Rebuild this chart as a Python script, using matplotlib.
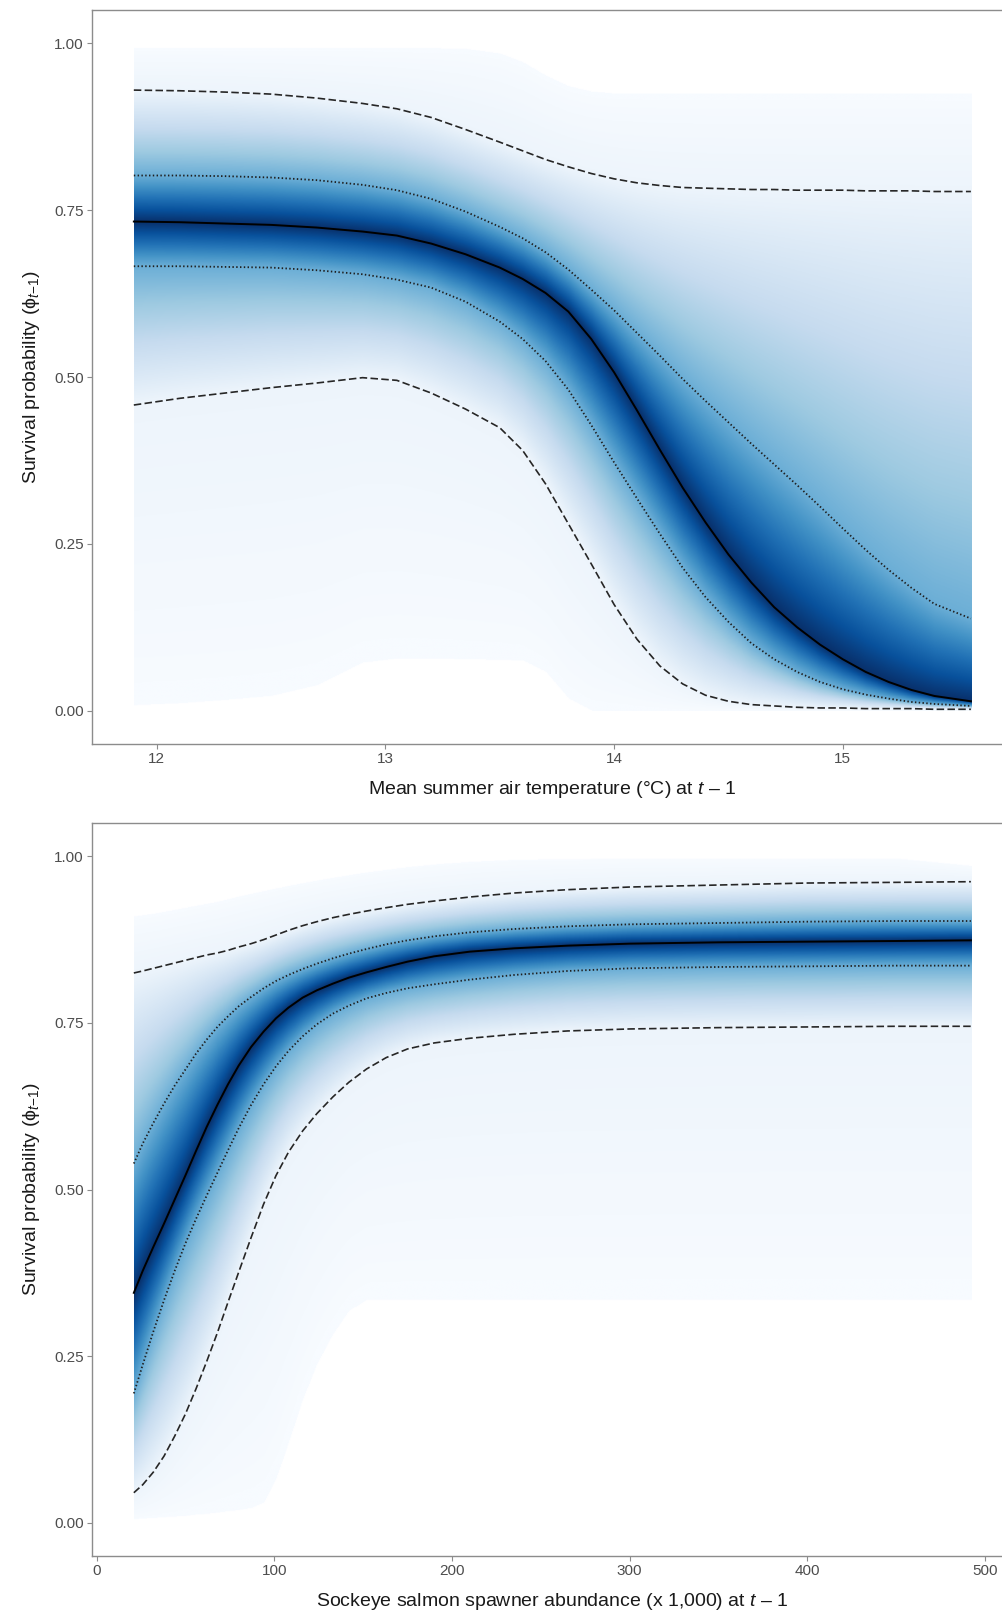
import numpy as np
import matplotlib.pyplot as plt
from matplotlib import colormaps

plt.rcParams['font.family'] = ['Liberation Sans', 'DejaVu Sans']
plt.rcParams['mathtext.fontset'] = 'custom'
plt.rcParams['mathtext.rm'] = 'Liberation Sans'
plt.rcParams['mathtext.it'] = 'Liberation Sans:italic'

# ---- top panel: survival vs mean summer air temperature ----
temp = [11.90, 12.10, 12.30, 12.50, 12.70, 12.90, 13.05, 13.20, 13.35, 13.50,
        13.60, 13.70, 13.80, 13.90, 14.00, 14.10, 14.20, 14.30, 14.40, 14.50,
        14.60, 14.70, 14.80, 14.90, 15.00, 15.10, 15.20, 15.30, 15.40, 15.56]
temp_med = [0.733, 0.732, 0.730, 0.728, 0.724, 0.718, 0.712, 0.700, 0.684, 0.664,
            0.647, 0.626, 0.598, 0.557, 0.507, 0.450, 0.391, 0.334, 0.282, 0.234,
            0.192, 0.155, 0.125, 0.099, 0.077, 0.058, 0.043, 0.031, 0.022, 0.014]
temp_hi50 = [0.802, 0.802, 0.801, 0.799, 0.795, 0.788, 0.780, 0.767, 0.748, 0.725,
             0.708, 0.687, 0.661, 0.631, 0.600, 0.566, 0.532, 0.497, 0.464, 0.432,
             0.400, 0.369, 0.338, 0.306, 0.273, 0.241, 0.211, 0.184, 0.160, 0.138]
temp_lo50 = [0.666, 0.666, 0.665, 0.664, 0.660, 0.654, 0.646, 0.634, 0.613, 0.583,
             0.557, 0.524, 0.481, 0.428, 0.372, 0.318, 0.265, 0.214, 0.170, 0.133,
             0.101, 0.077, 0.058, 0.043, 0.032, 0.024, 0.018, 0.013, 0.010, 0.007]
temp_hi95 = [0.930, 0.929, 0.927, 0.924, 0.918, 0.910, 0.902, 0.889, 0.871, 0.852,
             0.839, 0.826, 0.815, 0.805, 0.797, 0.791, 0.787, 0.784, 0.783, 0.782,
             0.781, 0.781, 0.780, 0.780, 0.780, 0.779, 0.779, 0.779, 0.778, 0.778]
temp_lo95 = [0.458, 0.468, 0.476, 0.484, 0.491, 0.499, 0.495, 0.476, 0.452, 0.424,
             0.390, 0.340, 0.280, 0.220, 0.159, 0.107, 0.067, 0.040, 0.023, 0.014,
             0.009, 0.007, 0.005, 0.004, 0.004, 0.003, 0.003, 0.003, 0.002, 0.002]
temp_top = [0.993, 0.993, 0.993, 0.993, 0.993, 0.993, 0.993, 0.993, 0.992, 0.985,
            0.972, 0.952, 0.936, 0.928, 0.925, 0.925, 0.925, 0.925, 0.925, 0.925,
            0.925, 0.925, 0.925, 0.925, 0.925, 0.925, 0.925, 0.925, 0.925, 0.925]
temp_bot = [0.008, 0.011, 0.016, 0.022, 0.038, 0.072, 0.078, 0.078, 0.077, 0.076,
            0.075, 0.058, 0.018, 0.0, 0.0, 0.0, 0.0, 0.0, 0.0, 0.0,
            0.0, 0.0, 0.0, 0.0, 0.0, 0.0, 0.0, 0.0, 0.0, 0.0]

# ---- bottom panel: survival vs sockeye spawner abundance ----
spawn = [21, 26, 32, 38, 44, 50, 56, 62, 68, 74, 80, 87, 94, 101, 108, 116,
         124, 133, 142, 152, 163, 175, 190, 210, 235, 265, 300, 350, 400, 450, 492]
spawn_med = [0.345, 0.378, 0.414, 0.449, 0.485, 0.521, 0.558, 0.594, 0.627, 0.658,
             0.686, 0.714, 0.737, 0.757, 0.773, 0.788, 0.799, 0.809, 0.818, 0.826,
             0.834, 0.842, 0.850, 0.857, 0.862, 0.866, 0.869, 0.871, 0.872, 0.873, 0.874]
spawn_hi50 = [0.539, 0.569, 0.600, 0.629, 0.656, 0.680, 0.704, 0.725, 0.744, 0.760,
              0.775, 0.789, 0.802, 0.813, 0.822, 0.831, 0.839, 0.847, 0.854, 0.861,
              0.868, 0.874, 0.880, 0.886, 0.891, 0.895, 0.898, 0.900, 0.902, 0.903, 0.903]
spawn_lo50 = [0.194, 0.237, 0.287, 0.334, 0.378, 0.419, 0.456, 0.491, 0.525, 0.559,
              0.592, 0.627, 0.658, 0.685, 0.708, 0.730, 0.748, 0.764, 0.776, 0.787,
              0.795, 0.802, 0.808, 0.815, 0.822, 0.828, 0.832, 0.834, 0.835, 0.836, 0.836]
spawn_hi95 = [0.825, 0.828, 0.832, 0.836, 0.840, 0.844, 0.848, 0.852, 0.855, 0.859,
              0.864, 0.869, 0.875, 0.882, 0.889, 0.896, 0.902, 0.908, 0.913, 0.918,
              0.923, 0.928, 0.933, 0.939, 0.945, 0.950, 0.954, 0.957, 0.960, 0.961, 0.962]
spawn_lo95 = [0.045, 0.057, 0.076, 0.100, 0.130, 0.163, 0.201, 0.242, 0.285, 0.331,
              0.376, 0.428, 0.478, 0.521, 0.556, 0.588, 0.614, 0.639, 0.661, 0.681,
              0.698, 0.711, 0.720, 0.727, 0.733, 0.738, 0.741, 0.743, 0.744, 0.745, 0.745]
spawn_top = [0.910, 0.912, 0.914, 0.917, 0.920, 0.923, 0.926, 0.929, 0.932, 0.936,
             0.940, 0.944, 0.948, 0.952, 0.956, 0.960, 0.964, 0.968, 0.972, 0.976,
             0.980, 0.984, 0.988, 0.992, 0.995, 0.996, 0.997, 0.997, 0.997, 0.997, 0.986]
spawn_bot = [0.005, 0.006, 0.007, 0.008, 0.009, 0.010, 0.012, 0.013, 0.015, 0.017,
             0.019, 0.022, 0.030, 0.066, 0.120, 0.185, 0.238, 0.283, 0.318, 0.334,
             0.334, 0.334, 0.334, 0.334, 0.334, 0.334, 0.334, 0.334, 0.334, 0.334, 0.334]

y_ticks = [0.0, 0.25, 0.5, 0.75, 1.0]
temp_ticks = [12, 13, 14, 15]
spawn_ticks = [0, 100, 200, 300, 400, 500]

GREY = '#8c8c8c'
PROBS = [0.0, 0.025, 0.25, 0.5, 0.75, 0.975, 1.0]


def draw_gradient(ax, x, bounds):
    """shade each column by central-interval level: dark at the median, pale at the tails"""
    x = np.asarray(x, float)
    xs = np.linspace(x[0], x[-1], 900)
    ys = np.linspace(0, 1, 1100)
    curves = np.array([np.interp(xs, x, b) for b in bounds])
    img = np.full((len(ys), len(xs)), np.nan)
    for j in range(len(xs)):
        q = curves[:, j] + np.arange(len(PROBS)) * 1e-6
        q = np.maximum.accumulate(q)
        F = np.interp(ys, q, PROBS)
        lvl = 1 - np.abs(2 * F - 1)
        inside = (ys >= q[0]) & (ys <= q[-1])
        img[inside, j] = lvl[inside]
    cmap = colormaps['Blues'].copy()
    cmap.set_bad((1, 1, 1, 0))
    ax.imshow(img, extent=(x[0], x[-1], 0, 1), origin='lower', aspect='auto',
              cmap=cmap, vmin=0, vmax=1, interpolation='bilinear', zorder=1)


def panel(ax, x, med, lo50, hi50, lo95, hi95, bot, top, ticks, xlabel):
    draw_gradient(ax, x, [bot, lo95, lo50, med, hi50, hi95, top])
    for c in (hi95, lo95):
        ax.plot(x, c, color='#262626', lw=1.2, ls=(0, (4.5, 2.0)), zorder=3)
    for c in (hi50, lo50):
        ax.plot(x, c, color='#1f1f1f', lw=1.3, ls=(0, (0.8, 1.3)), zorder=3)
    ax.plot(x, med, color='black', lw=1.4, zorder=4)

    span = x[-1] - x[0]
    ax.set_xlim(x[0] - 0.05 * span, x[-1] + 0.05 * span)
    ax.set_ylim(-0.05, 1.05)
    ax.set_xticks(ticks)
    ax.set_yticks(y_ticks)
    ax.set_yticklabels([f'{v:.2f}' for v in y_ticks])
    ax.tick_params(colors=GREY, labelcolor='#4d4d4d', labelsize=11,
                   length=3.5, width=0.8, pad=2.5)
    for s in ax.spines.values():
        s.set_color(GREY)
        s.set_linewidth(1.0)
    ax.set_xlabel(xlabel, fontsize=14, color='#1a1a1a', labelpad=9)
    ax.set_ylabel(r'Survival probability ($\mathrm{\phi}_{t\mathrm{-1}}$)', fontsize=14,
                  color='#1a1a1a', labelpad=9)


fig = plt.figure(figsize=(10.03, 16.17), dpi=100)
ax1 = fig.add_axes([0.0917, 0.5399, 0.918, 0.4539])
ax2 = fig.add_axes([0.0917, 0.0377, 0.918, 0.4533])

panel(ax1, temp, temp_med, temp_lo50, temp_hi50, temp_lo95, temp_hi95,
      temp_bot, temp_top, temp_ticks,
      'Mean summer air temperature (°C) at $t$ – 1')
panel(ax2, spawn, spawn_med, spawn_lo50, spawn_hi50, spawn_lo95, spawn_hi95,
      spawn_bot, spawn_top, spawn_ticks,
      'Sockeye salmon spawner abundance (x 1,000) at $t$ – 1')

fig.savefig('out.png', dpi=100, facecolor='white')
